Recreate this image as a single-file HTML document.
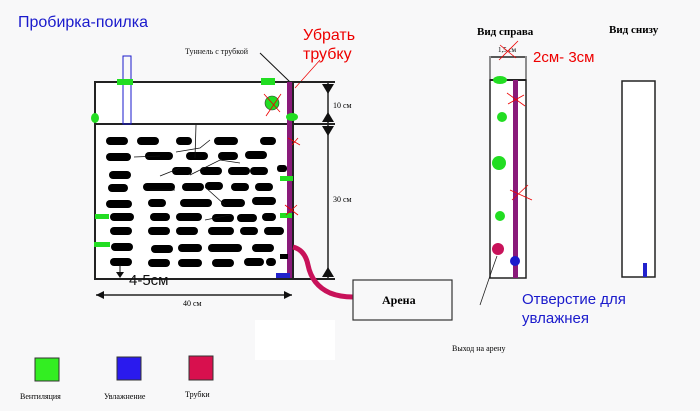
<!DOCTYPE html><html><head><meta charset="utf-8"><style>body{margin:0;background:#f8f8f9}svg{display:block}</style></head><body>
<svg width="700" height="411" xmlns="http://www.w3.org/2000/svg" font-family="Liberation Serif, serif">
<rect width="700" height="411" fill="#f8f8f9"/>
<rect x="95" y="82" width="198" height="197" fill="#fff"/>
<rect x="255" y="320" width="80" height="40" fill="#fff"/>
<text x="18" y="27" font-family="Liberation Sans, sans-serif" font-size="16" fill="#1a1acc">Пробирка-поилка</text>
<text x="303" y="40" font-family="Liberation Sans, sans-serif" font-size="16" fill="#e00">Убрать</text>
<text x="303" y="59" font-family="Liberation Sans, sans-serif" font-size="16" fill="#e00">трубку</text>
<text x="185" y="54" font-size="8" fill="#111">Туннель с трубкой</text>
<line x1="260" y1="53" x2="290" y2="82" stroke="#111"/>
<line x1="295" y1="88" x2="320" y2="60" stroke="#e00" stroke-width="0.7"/>
<!-- main box -->
<g stroke="#222" stroke-width="2" fill="none">
<rect x="95" y="82" width="198" height="197"/>
<line x1="95" y1="124" x2="335" y2="124"/>
<line x1="293" y1="82" x2="335" y2="82"/>
<line x1="293" y1="279" x2="335" y2="279"/>
<line x1="328" y1="82" x2="328" y2="279" stroke-width="1.5"/>
<line x1="96" y1="295" x2="292" y2="295" stroke-width="1.5"/>
</g>
<g fill="#111">
<polygon points="322,84 334,84 328,94"/><polygon points="322,122 334,122 328,112"/>
<polygon points="322,126 334,126 328,136"/><polygon points="322,277 334,277 328,267"/>
<polygon points="96,295 104,291 104,299"/><polygon points="292,295 284,291 284,299"/>
</g>
<text x="333" y="108" font-size="8">10 см</text>
<text x="333" y="202" font-size="8">30 см</text>
<text x="183" y="306" font-size="8">40 см</text>
<rect x="123" y="56" width="8" height="68" fill="none" stroke="#1a1acc" stroke-width="1"/>
<rect x="287" y="82" width="5" height="197" fill="#8a1a7a"/>
<rect x="276" y="273" width="14" height="6" fill="#2222cc"/>
<!-- green vents -->
<g fill="#22dd22">
<rect x="117" y="79" width="16" height="6"/><rect x="261" y="78" width="14" height="7"/>
<ellipse cx="95" cy="118" rx="4" ry="5"/><ellipse cx="292" cy="117" rx="6" ry="4"/>
<rect x="280" y="176" width="13" height="5"/><rect x="280" y="213" width="12" height="5"/>
<rect x="95" y="214" width="14" height="5"/><rect x="94" y="242" width="16" height="5"/>
<circle cx="272" cy="103" r="7" stroke="#333" stroke-width="0.6"/>
</g>
<g stroke="#e00" stroke-width="0.8">
<line x1="264" y1="94" x2="280" y2="112"/><line x1="281" y1="94" x2="266" y2="116"/>
<line x1="288" y1="138" x2="300" y2="145"/><line x1="292" y1="145" x2="298" y2="138"/>
<line x1="285" y1="205" x2="298" y2="215"/><line x1="286" y1="215" x2="297" y2="205"/>
</g>
<!-- blobs -->
<g fill="#000">
<rect x="106" y="137" width="22" height="8" rx="4"/><rect x="137" y="137" width="22" height="8" rx="4"/><rect x="176" y="137" width="16" height="8" rx="4"/><rect x="214" y="137" width="24" height="8" rx="4"/><rect x="260" y="137" width="16" height="8" rx="4"/>
<rect x="106" y="153" width="25" height="8" rx="4"/><rect x="145" y="152" width="28" height="8" rx="4"/><rect x="186" y="152" width="22" height="8" rx="4"/><rect x="218" y="152" width="20" height="8" rx="4"/><rect x="245" y="151" width="22" height="8" rx="4"/>
<rect x="109" y="171" width="22" height="8" rx="4"/><rect x="172" y="167" width="20" height="8" rx="4"/><rect x="200" y="167" width="22" height="8" rx="4"/><rect x="228" y="167" width="22" height="8" rx="4"/><rect x="250" y="167" width="18" height="8" rx="4"/><rect x="277" y="165" width="10" height="7" rx="3"/>
<rect x="108" y="184" width="20" height="8" rx="4"/><rect x="143" y="183" width="32" height="8" rx="4"/><rect x="182" y="183" width="22" height="8" rx="4"/><rect x="205" y="182" width="18" height="8" rx="4"/><rect x="231" y="183" width="18" height="8" rx="4"/><rect x="255" y="183" width="18" height="8" rx="4"/>
<rect x="106" y="200" width="26" height="8" rx="4"/><rect x="148" y="199" width="18" height="8" rx="4"/><rect x="180" y="199" width="32" height="8" rx="4"/><rect x="221" y="199" width="24" height="8" rx="4"/><rect x="252" y="197" width="24" height="8" rx="4"/>
<rect x="110" y="213" width="24" height="8" rx="4"/><rect x="150" y="213" width="20" height="8" rx="4"/><rect x="176" y="213" width="26" height="8" rx="4"/><rect x="212" y="214" width="22" height="8" rx="4"/><rect x="237" y="214" width="20" height="8" rx="4"/><rect x="262" y="213" width="14" height="8" rx="4"/>
<rect x="110" y="227" width="22" height="8" rx="4"/><rect x="148" y="227" width="22" height="8" rx="4"/><rect x="176" y="227" width="22" height="8" rx="4"/><rect x="208" y="227" width="26" height="8" rx="4"/><rect x="240" y="227" width="18" height="8" rx="4"/><rect x="264" y="227" width="20" height="8" rx="4"/>
<rect x="111" y="243" width="22" height="8" rx="4"/><rect x="151" y="245" width="22" height="8" rx="4"/><rect x="178" y="244" width="24" height="8" rx="4"/><rect x="208" y="244" width="34" height="8" rx="4"/><rect x="252" y="244" width="22" height="8" rx="4"/>
<rect x="110" y="258" width="22" height="8" rx="4"/><rect x="148" y="259" width="22" height="8" rx="4"/><rect x="178" y="259" width="24" height="8" rx="4"/><rect x="212" y="259" width="22" height="8" rx="4"/><rect x="244" y="258" width="20" height="8" rx="4"/><rect x="266" y="258" width="10" height="8" rx="4"/>
</g>
<g stroke="#111" stroke-width="0.8" fill="none">
<path d="M195 158 L196 125"/><path d="M134 157 L160 156 M176 152 L200 148 L210 140"/><path d="M160 176 L180 168"/><path d="M190 175 L220 160 L240 163"/><path d="M175 190 L150 190 M205 187 L225 205"/><path d="M230 215 L205 220"/>
</g>
<rect x="280" y="254" width="8" height="5" fill="#000"/>
<text x="129" y="285" font-family="Liberation Sans, sans-serif" font-size="15" fill="#111">4-5см</text>
<line x1="120" y1="265" x2="120" y2="277" stroke="#111"/><polygon points="116,272 124,272 120,278" fill="#111"/>
<line x1="180" y1="279" x2="330" y2="279" stroke="#222" stroke-width="2"/>
<!-- tube -->
<path d="M293 247 Q305 250 308 265 Q312 285 330 293 Q340 297 353 297" fill="none" stroke="#c8125a" stroke-width="5"/>
<rect x="353" y="280" width="99" height="40" fill="none" stroke="#333" stroke-width="1.2"/>
<text x="382" y="304" font-size="12" font-weight="bold">Арена</text>
<!-- right view -->
<text x="477" y="35" font-size="11" font-weight="bold">Вид справа</text>
<text x="609" y="33" font-size="11" font-weight="bold">Вид снизу</text>
<rect x="490" y="80" width="36" height="198" fill="#fff" stroke="#222" stroke-width="1.5"/>
<line x1="490" y1="56" x2="490" y2="80" stroke="#222"/><line x1="526" y1="56" x2="526" y2="80" stroke="#222"/>
<line x1="491" y1="57" x2="525" y2="57" stroke="#222" stroke-width="1.5"/>
<text x="498" y="52" font-size="7">1,5 см</text>
<line x1="499" y1="60" x2="518" y2="41" stroke="#e00" stroke-width="0.8"/><line x1="500" y1="45" x2="516" y2="58" stroke="#e00" stroke-width="0.8"/>
<text x="533" y="62" font-family="Liberation Sans, sans-serif" font-size="15" fill="#e00">2см- 3см</text>
<line x1="490" y1="80" x2="526" y2="80" stroke="#222" stroke-width="2"/>
<rect x="513" y="80" width="5" height="198" fill="#8a1a7a"/>
<g fill="#22dd22"><ellipse cx="500" cy="80" rx="7" ry="4"/><circle cx="502" cy="117" r="5"/><circle cx="499" cy="163" r="7"/><circle cx="500" cy="216" r="5"/></g>
<circle cx="498" cy="249" r="6" fill="#c8125a"/><circle cx="515" cy="261" r="5" fill="#1a1acc"/>
<g stroke="#e00" stroke-width="0.8"><line x1="507" y1="93" x2="525" y2="106"/><line x1="508" y1="104" x2="524" y2="95"/><line x1="510" y1="190" x2="532" y2="200"/><line x1="512" y1="200" x2="528" y2="185"/></g>
<path d="M497 256 L492 270 L480 305" fill="none" stroke="#222" stroke-width="0.8"/>
<text x="452" y="351" font-size="8">Выход на арену</text>
<text x="522" y="304" font-family="Liberation Sans, sans-serif" font-size="15" fill="#1a1acc">Отверстие для</text>
<text x="522" y="323" font-family="Liberation Sans, sans-serif" font-size="15" fill="#1a1acc">увлажнея</text>
<rect x="622" y="81" width="33" height="196" fill="#fff" stroke="#222" stroke-width="1.5"/>
<rect x="643" y="263" width="4" height="14" fill="#2222cc"/>
<!-- legend -->
<rect x="35" y="358" width="24" height="23" fill="#33ee22" stroke="#333"/>
<rect x="117" y="357" width="24" height="23" fill="#2a1aee" stroke="#333"/>
<rect x="189" y="356" width="24" height="24" fill="#d8104e" stroke="#333"/>
<text x="20" y="399" font-size="8">Вентиляция</text>
<text x="104" y="399" font-size="8">Увлажнение</text>
<text x="185" y="397" font-size="8">Трубки</text>
</svg></body></html>
